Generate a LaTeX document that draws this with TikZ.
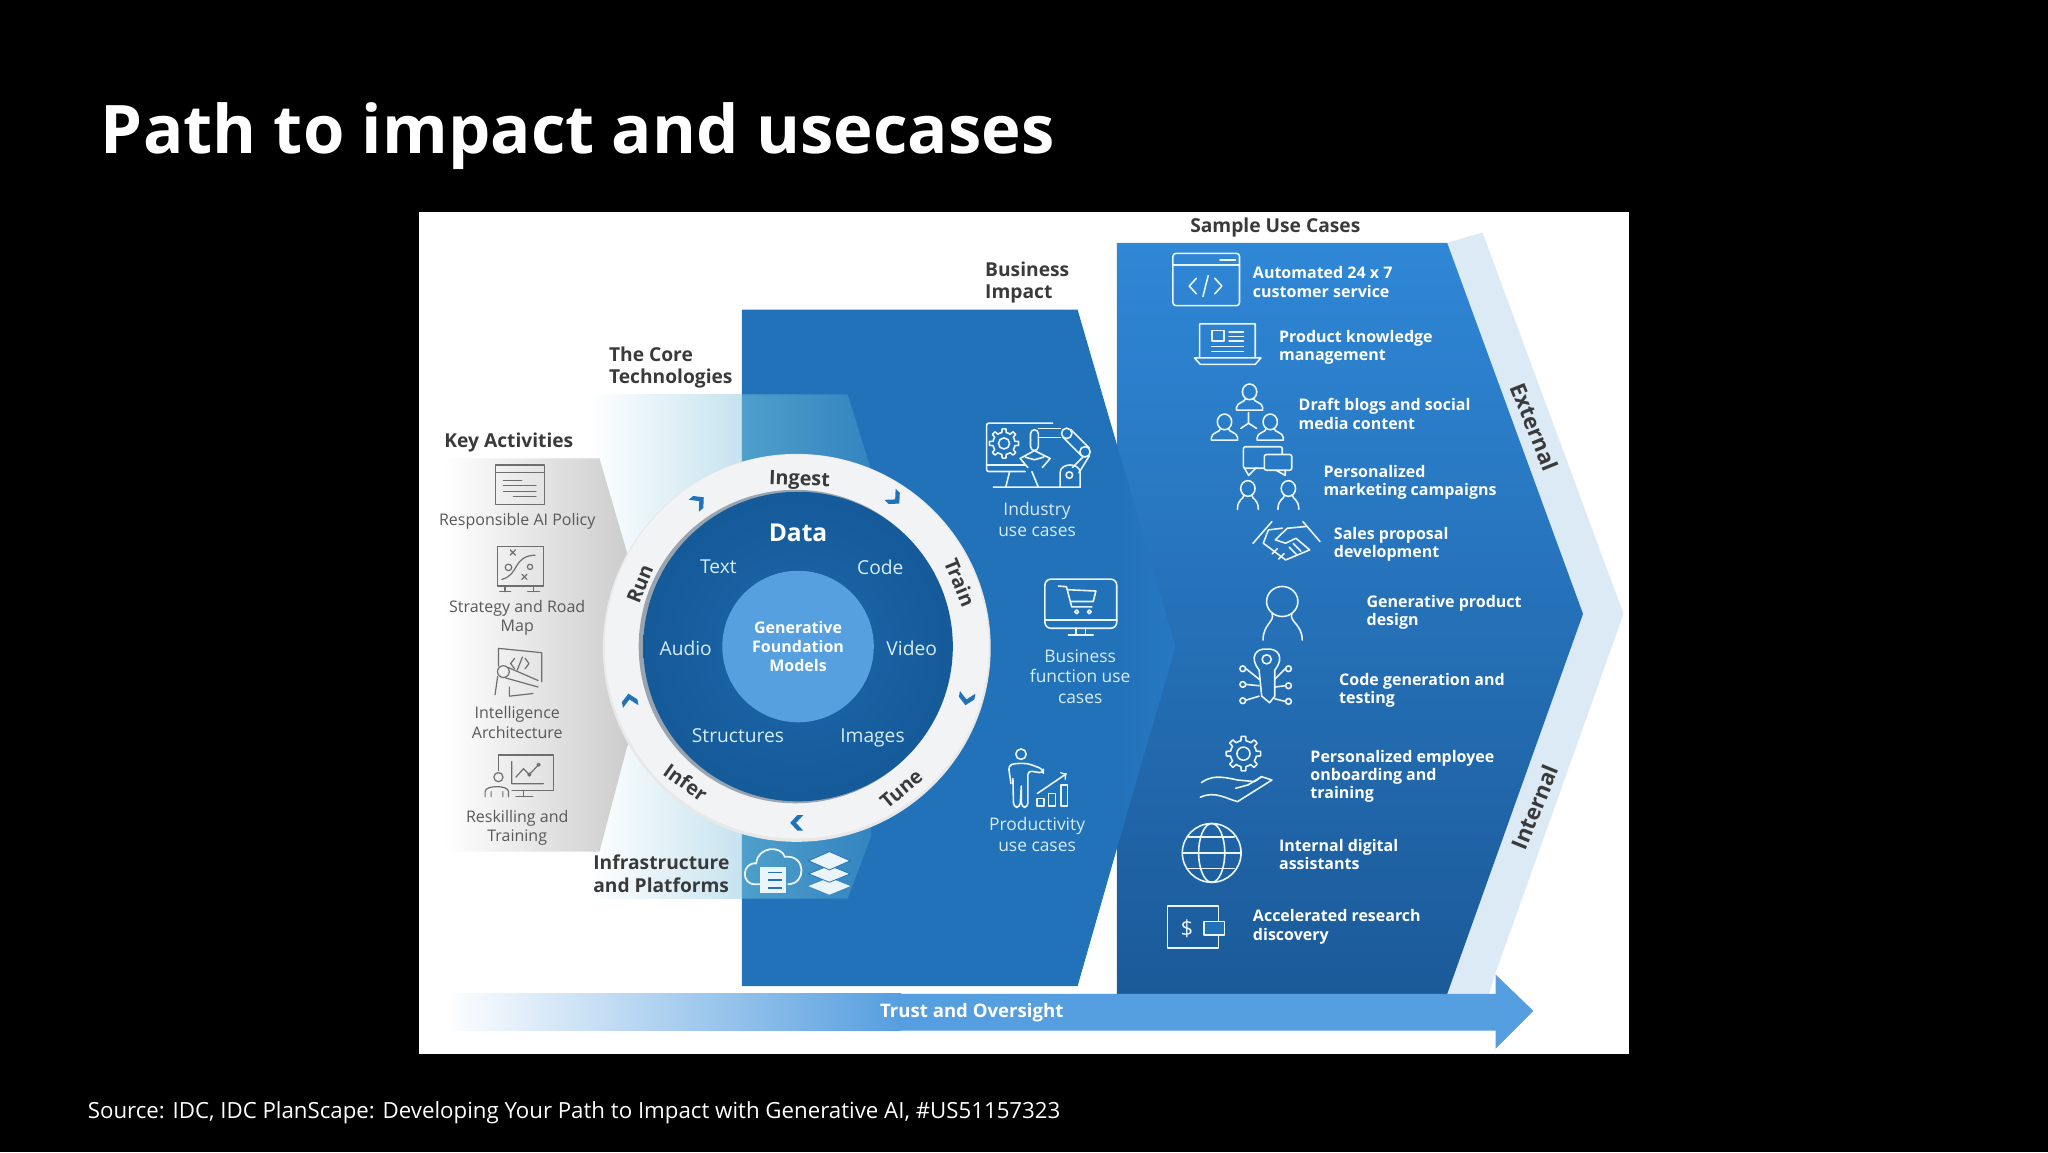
\documentclass[tikz,border=0pt]{standalone}
\usepackage{fontspec}
\setmainfont{Open Sans}
\definecolor{midblue}{HTML}{2272BA}
\definecolor{topblue}{HTML}{2F87D6}
\definecolor{lowblue}{HTML}{1B5A99}
\definecolor{bandblue}{HTML}{DCEAF6}
\definecolor{arrowblue}{HTML}{559EDF}
\definecolor{coreblue}{HTML}{56A0E0}
\definecolor{lightcore}{HTML}{4F9FCB}
\definecolor{palecyan}{HTML}{C6E3EF}
\definecolor{diskblue}{HTML}{1C68AC}
\definecolor{diskedge}{HTML}{155A99}
\definecolor{ringgrey}{HTML}{F1F3F5}
\definecolor{rimgrey}{HTML}{98A4AF}
\definecolor{inktext}{HTML}{3A3A3A}
\definecolor{greytext}{HTML}{595959}
\definecolor{iconwhite}{HTML}{EAF4FB}
\definecolor{iconlight}{HTML}{D6ECF9}
\definecolor{icongrey}{HTML}{6E6E6E}
\begin{document}
\begin{tikzpicture}[x=0.65306pt,y=-0.65306pt]
   \tikzset{heading/.style={inner sep=0pt,text=inktext,align=left,font=\fontsize{9.6}{11.1}\selectfont\bfseries}}
   \tikzset{sidelabel/.style={inner sep=0pt,text=inktext,font=\fontsize{11}{13}\selectfont\bfseries}}
   \tikzset{usecase/.style={anchor=west,inner sep=0pt,text=white,align=left,font=\fontsize{8}{9.15}\selectfont\bfseries}}
   \tikzset{impacttext/.style={inner sep=0pt,text=iconlight,align=center,font=\fontsize{8.7}{10.4}\selectfont}}
   \tikzset{keyact/.style={inner sep=0pt,text=greytext,align=center,font=\fontsize{8}{9.7}\selectfont}}
   \tikzset{dataitem/.style={inner sep=0pt,text=iconlight,font=\fontsize{9.6}{11}\selectfont}}
   \tikzset{ringlabel/.style={inner sep=0pt,text=inktext,font=\fontsize{9.9}{11}\selectfont\bfseries}}
   \tikzset{iconline/.style={draw=iconwhite,line width=0.8pt,line join=round,line cap=round}}
   \tikzset{greyline/.style={draw=icongrey,line width=0.6pt,line join=round,line cap=round}}
   \tikzset{personicon/.pic={
      \draw[iconline] (0,0) ellipse (5.5 and 6);
      \draw[iconline] (-3,5) .. controls (-3,8) and (-10,8) .. (-10,12) -- (-10,14) -- (10,14) -- (10,12) .. controls (10,8) and (3,8) .. (3,5);}}
   \tikzset{openperson/.pic={
      \draw[iconline] (0,0) ellipse (5.5 and 6);
      \draw[iconline] (-3,5) .. controls (-3,8) and (-8,8) .. (-8,16);
      \draw[iconline] (3,5) .. controls (3,8) and (8,8) .. (8,16);}}
   \tikzset{chevron/.pic={
      \fill[midblue] (-5,-6) -- (-0.5,-6) -- (5,0) -- (-0.5,6) -- (-5,6) -- (0.5,0) -- cycle;}}
   \tikzset{gearicon/.pic={
      \draw[iconline] plot[samples=97,domain=0:360,variable=\t] ({(10+3.2*(cos(8*\t)>0))*cos(\t)},{(10+3.2*(cos(8*\t)>0))*sin(\t)}) -- cycle;
      \draw[iconline] (0,0) circle[radius=5];}}
   % background and panel
   \fill[black] (0,0) rectangle (1568,882);
   \useasboundingbox (0,0) rectangle (1568,882);
   \fill[white] (321,162) rectangle (1247,807);
   \node[anchor=west,inner sep=0pt,text=white,font=\fontsize{33.5}{38}\selectfont\bfseries] (title) at (77,104) {Path to impact and usecases};
   \node[anchor=west,inner sep=0pt,text=white,font=\fontsize{11.13}{14}\selectfont] (source) at (67,852) {Source: IDC, IDC PlanScape: Developing Your Path to Impact with Generative AI, \#US51157323};
   % blocks
   \fill[bandblue] (1108,186) -- (1135,178) -- (1243,470) -- (1145,745) -- (1140,761) -- (1108,761) -- (1212,470) -- cycle;
   \shade[top color=topblue,middle color=midblue!85!topblue,bottom color=lowblue] (855,186) -- (1108,186) -- (1212,470) -- (1108,761) -- (855,761) -- cycle;
   \fill[midblue] (568,237) -- (825,237) -- (855,340) -- (855,650) -- (825,755) -- (568,755) -- cycle;
   \shade[left color=midblue,right color=midblue!70!topblue] (855,340) -- (900,495) -- (855,650) -- cycle;
   \shade[left color=white,right color=palecyan] (450,302) rectangle (568,688);
   \shade[left color=lightcore,right color=midblue!60!lightcore] (568,302) -- (649,302) -- (667,360) -- (667,640) -- (649,688) -- (568,688) -- cycle;
   \shade[left color=white,right color=black!24] (340,351) -- (459,351) -- (480,423) -- (510,495) -- (480,572) -- (459,652) -- (340,652) -- cycle;
   % wheel
   \fill[black!9] (610,496) circle[radius=148.5];
   \fill[ringgrey] (610,495) circle[radius=147];
   \fill[rimgrey] (609,495) circle[radius=120];
   \shade[inner color=diskblue,outer color=diskedge] (611,495) circle[radius=118.5];
   \fill[coreblue] (611,495) circle[radius=58];
   \node[inner sep=0pt,text=white,align=center,font=\fontsize{8}{9.5}\selectfont\bfseries] (corelabel) at (611,495) {Generative\\Foundation\\Models};
   \node[inner sep=0pt,text=white,font=\fontsize{12.3}{14}\selectfont\bfseries] (datalabel) at (611,408) {Data};
   \node[dataitem] (text) at (550,434) {Text};
   \node[dataitem] (code) at (674,434) {Code};
   \node[dataitem] (audio) at (525,496) {Audio};
   \node[dataitem] (video) at (698,496) {Video};
   \node[dataitem] (structures) at (565,563) {Structures};
   \node[dataitem] (images) at (668,565) {Images};
   \node[ringlabel,rotate=-2] (ingest) at (612,368) {Ingest};
   \node[ringlabel,rotate=-68] (train) at (735,446) {Train};
   \node[ringlabel,rotate=40] (tune) at (690,604) {Tune};
   \node[ringlabel,rotate=-35] (infer) at (525,599) {Infer};
   \node[ringlabel,rotate=68] (run) at (490,447) {Run};
   \pic[rotate=40] at (535,384) {chevron};
   \pic[rotate=-45] at (685,382) {chevron};
   \pic[rotate=-100] at (740,535) {chevron};
   \pic[rotate=180] at (610,630) {chevron};
   \pic[rotate=100] at (482,536) {chevron};
   % headings
   \node[heading,anchor=west] (sample) at (911,174.5) {Sample Use Cases};
   \node[heading,anchor=west] (impact) at (754,216.5) {Business\\Impact};
   \node[heading,anchor=west] (core) at (466,281.5) {The Core\\Technologies};
   \node[heading,anchor=west] (activities) at (340,339) {Key Activities};
   \node[heading,anchor=west] (platforms) at (454,669) {Infrastructure\\and Platforms};
   \node[sidelabel,rotate=-68] (external) at (1175,327) {External};
   \node[sidelabel,rotate=68] (internal) at (1175,618) {Internal};
   % key activities
   \node[keyact] (policy) at (396,399) {Responsible AI Policy};
   \node[keyact] (strategy) at (396,473) {Strategy and Road\\Map};
   \node[keyact] (architecture) at (396,553) {Intelligence\\Architecture};
   \node[keyact] (reskilling) at (396,634) {Reskilling and\\Training};
   \draw[greyline] (379.5,356) rectangle (416.6,386) (379.5,362) -- (416.6,362);
   \draw[greyline] (385.4,367.6) -- (399.5,367.6) (385.4,372) -- (410.4,372) (385.4,376) -- (410.4,376) (393,380.3) -- (410.4,380.3);
   \draw[greyline] (381,418.6) rectangle (416,448.7);
   \draw[greyline] (386.7,448.7) -- (386.7,453) (408.5,448.7) -- (408.5,453) (382.5,453) -- (391,453) (404,453) -- (413,453);
   \draw[greyline] (384.2,443.6) .. controls (398,440) and (392,426) .. (409.7,425);
   \draw[greyline] (389.3,434.4) circle[radius=2.5] (405.8,434) circle[radius=2];
   \draw[greyline] (390.6,421) -- (394.6,425) (394.6,421) -- (390.6,425) (399.5,439.6) -- (403.5,443.6) (403.5,439.6) -- (399.5,443.6);
   \draw[greyline] (381.6,510) -- (381.6,496.4) -- (414.8,499.7) -- (414.8,522);
   \draw[greyline] (385.4,514.2) circle[radius=4.5];
   \draw[greyline] (381,518) -- (379,532) (389,511) -- (412,521) (387,519) -- (412,526) (390,526) -- (390,533) -- (408,531);
   \draw[greyline] (394,504) -- (391,508) -- (394,512) (402,504) -- (405,508) -- (402,512) (400,503) -- (396,513);
   \draw[greyline] (381.6,590) -- (381.6,578) -- (423.7,578) -- (423.7,605) -- (392,605);
   \draw[greyline] (381.6,595) circle[radius=3.5];
   \draw[greyline] (371.4,610) -- (371.4,606) .. controls (371.4,601) and (389.3,601) .. (389.3,606) -- (389.3,610) (376,606) -- (376,610) (385,606) -- (385,610);
   \draw[greyline] (401,605) -- (401,610) (395,610) -- (408,610);
   \draw[greyline] (391.8,583) -- (391.8,600) -- (416,600) (395,595) -- (400.8,588.5) -- (405.3,593) -- (412.3,585.5);
   \draw[greyline] (405.3,593) circle[radius=1.2] (412.3,585.5) circle[radius=1.2];
   % infrastructure icons
   \draw[iconwhite,line width=0.9pt] (583,677) -- (578,677) .. controls (567,677) and (568,660) .. (579,661) .. controls (580,648) and (598,647) .. (601,656) .. controls (617,654) and (618,677) .. (603,677);
   \fill[iconwhite] (582,663.6) rectangle (602,684);
   \foreach \py in {668,674,680} {\draw[midblue,line width=0.9pt] (588,\py) -- (599,\py);}
   \fill[iconwhite] (635,672) -- (651,678.4) -- (635,685) -- (619,678.4) -- cycle;
   \draw[midblue,line width=0.4pt,fill=iconwhite] (635,662.5) -- (651,669) -- (635,675.5) -- (619,669) -- cycle;
   \draw[midblue,line width=0.4pt,fill=iconwhite] (635,652) -- (651,659) -- (635,666) -- (619,659) -- cycle;
   % business impact
   \node[impacttext] (industry) at (794,398) {Industry\\use cases};
   \node[impacttext] (business) at (827,518) {Business\\function use\\cases};
   \node[impacttext] (productivity) at (794,639) {Productivity\\use cases};
   \draw[iconline,rounded corners=1pt] (806,324) -- (755.4,324) -- (755.4,361) -- (785,361);
   \draw[iconline] (755.4,356) -- (785,356) (773,361) -- (770,373) (790,361) -- (795,373) (760.5,373) -- (827,373);
   \pic[scale=0.85] at (768.7,339.5) {gearicon};
   \draw[iconline,rounded corners=2pt] (789,345) -- (789,329) -- (795,329) -- (795,345) -- cycle;
   \draw[iconline] (795,328) -- (812,328) (795,335) -- (812,335);
   \draw[iconline] (816.7,331.8) circle[radius=4] (830.7,345.9) circle[radius=4];
   \draw[iconline] (820,329) -- (834,343) (814,335) -- (828,349) (829,350) -- (821,358) (834,349) -- (826,362);
   \draw[iconline] (811.6,373) -- (811.6,362) .. controls (811.6,354) and (827,354) .. (827,362) -- (827,373);
   \draw[iconline] (818.7,363.7) circle[radius=2.5];
   \draw[iconline] (792,345) -- (781,351) -- (787,358) (792,345) -- (804,351) -- (798,358) (785,350) -- (792,352) -- (799,350);
   \draw[iconline,rounded corners=3pt] (800,443.4) rectangle (855,481);
   \draw[iconline] (800,474.8) -- (855,474.8) (824,481) -- (824,486.2) (831,481) -- (831,486.2) (818,486.2) -- (837,486.2);
   \draw[iconline] (810.3,448.7) -- (816.5,449.2) -- (820.5,464.6) -- (836,464.6) (817.5,451.5) -- (839,452.5) -- (837,460.5) -- (820,460.5);
   \draw[iconline] (824.3,468.4) circle[radius=1.5] (834,468.4) circle[radius=1.5];
   \draw[iconline] (781.7,577.4) circle[radius=4];
   \draw[iconline,rounded corners=2pt] (774,600) -- (772,586) -- (777,584.5) -- (787,584.5) -- (798.8,589) -- (798.8,592) -- (787,590) -- (787,618) -- (782,618) -- (782,600) -- (781,618) -- (776,618) -- (775.5,596);
   \draw[iconline] (794,611.3) rectangle (799.3,617.2) (802.6,607.5) rectangle (808.2,617.2) (812.3,601) rectangle (817.4,617.2);
   \draw[iconline,->] (794.2,607.5) -- (816.7,592.2);
   % sample use cases
   \node[usecase] (usecase1) at (959,216) {Automated 24 x 7\\customer service};
   \node[usecase] (usecase2) at (979,266) {Product knowledge\\management};
   \node[usecase] (usecase3) at (994,317) {Draft blogs and social\\media content};
   \node[usecase] (usecase4) at (1013,369.5) {Personalized\\marketing campaigns};
   \node[usecase] (usecase5) at (1021,416.5) {Sales proposal\\development};
   \node[usecase] (usecase6) at (1046,469) {Generative product\\design};
   \node[usecase] (usecase7) at (1025,528.5) {Code generation and\\testing};
   \node[usecase] (usecase8) at (1003,594.5) {Personalized employee\\onboarding and\\training};
   \node[usecase] (usecase9) at (979,654) {Internal digital\\assistants};
   \node[usecase] (usecase10) at (959,709.5) {Accelerated research\\discovery};
   \draw[iconline,rounded corners=1.5pt] (898,194) rectangle (949,234);
   \draw[iconline] (898,203) -- (949,203) (934,199) -- (946,199);
   \draw[iconline] (916,213) -- (910.5,219) -- (916,225) (930,213) -- (935.5,219) -- (930,225) (925,211) -- (921,227);
   \draw[iconline] (918.5,274) -- (918.5,248) -- (961,248) -- (961,274) (914.5,274) -- (965.4,274) -- (961,279) -- (919,279) -- cycle;
   \draw[iconline] (927.7,253) rectangle (937,261);
   \draw[iconline] (941,254) -- (952,254) (941,257.5) -- (952,257.5) (941,261) -- (952,261) (927.7,265.4) -- (952,265.4) (927.7,269) -- (952,269);
   \pic at (956.7,300) {personicon};
   \pic at (937.5,323) {personicon};
   \pic at (972.5,323) {personicon};
   \draw[iconline] (955.9,324) -- (955.9,316) (955.9,324) -- (950,328) (955.9,324) -- (962,328);
   \draw[iconline,rounded corners=1pt] (952,342) rectangle (981.7,358.5);
   \draw[iconline] (952.5,358) -- (956,364) -- (962,358);
   \draw[iconline,fill=midblue!60!topblue,rounded corners=1pt] (968,348) rectangle (989,360);
   \draw[iconline] (977,360) -- (984,364) -- (984,360);
   \pic at (955.4,374) {openperson};
   \pic at (986.4,374) {openperson};
   \draw[iconline] (959.3,416) -- (973.8,399.3) (1010.6,414.6) -- (997.5,399.3);
   \draw[iconline] (1000.1,403.1) -- (985.6,404.4) -- (976.4,413.3) -- (984.3,415.9) -- (992.2,412.1) -- (1002.7,421) -- (984.3,428.7) -- (967.2,415.9) -- (971.1,405.7) -- (981.7,404.4);
   \draw[iconline] (978,420) -- (974,424) (983,424) -- (979,428) (990,416) -- (996,422) (987,419) -- (993,425);
   \draw[iconline] (981.7,460.5) ellipse (12 and 11.5);
   \draw[iconline] (974,470) .. controls (976,476) and (967,478) .. (967,490) (989,470) .. controls (987,476) and (997,478) .. (997,490);
   \draw[iconline] (969.8,504.8) circle[radius=3.5];
   \draw[iconline] (964,513) .. controls (956,503) and (962,496) .. (969.8,497) .. controls (978,496) and (984,503) .. (976,513) -- (976,533) -- (972,538) -- (966,533) -- (964,513);
   \draw[iconline] (964,520) -- (954,512) (964,525) -- (954,524) (964,533) -- (954,536) (976,520) -- (984,512) (976,526) -- (984,525) (976,535) -- (984,537);
   \draw[iconline] (951.5,512) circle[radius=2.2] (951.5,524) circle[radius=2.2] (951.5,536.5) circle[radius=2.2] (986.5,512) circle[radius=2.2] (986.5,525) circle[radius=2.2] (986.5,537) circle[radius=2.2];
   \pic at (952,577) {gearicon};
   \draw[iconline] (919.8,599.2) .. controls (927,594) and (934,594) .. (947.5,597.2) -- (960.6,598.4) -- (965.9,594.6) -- (973.8,597.2) -- (947.5,613.7) .. controls (940,612) and (930,605) .. (919,610.4);
   \draw[iconline] (946.1,603.5) -- (955.4,601) -- (965.9,594.6);
   \draw[iconline] (927.7,653) circle[radius=22.5];
   \draw[iconline] (927.7,653) ellipse (10 and 22.5);
   \draw[iconline] (905.2,653) -- (950.2,653) (910,641) -- (945,641) (910,665) -- (945,665);
   \draw[iconline] (894,693.6) rectangle (933,726);
   \draw[iconline,fill=midblue] (922,705.6) rectangle (937.5,715.8);
   \node[inner sep=0pt,text=iconwhite,font=\fontsize{11}{12}\selectfont] (dollar) at (908.8,711) {\$};
   % trust arrow
   \shade[left color=white,right color=arrowblue] (340,761) rectangle (690,789);
   \fill[arrowblue] (689,761) -- (1145,761) -- (1145,746) -- (1174,774) -- (1145,803) -- (1145,789) -- (689,789) -- cycle;
   \node[inner sep=0pt,text=white,font=\fontsize{9.3}{10}\selectfont\bfseries] (trust) at (744,775) {Trust and Oversight};
\end{tikzpicture}
\end{document}
